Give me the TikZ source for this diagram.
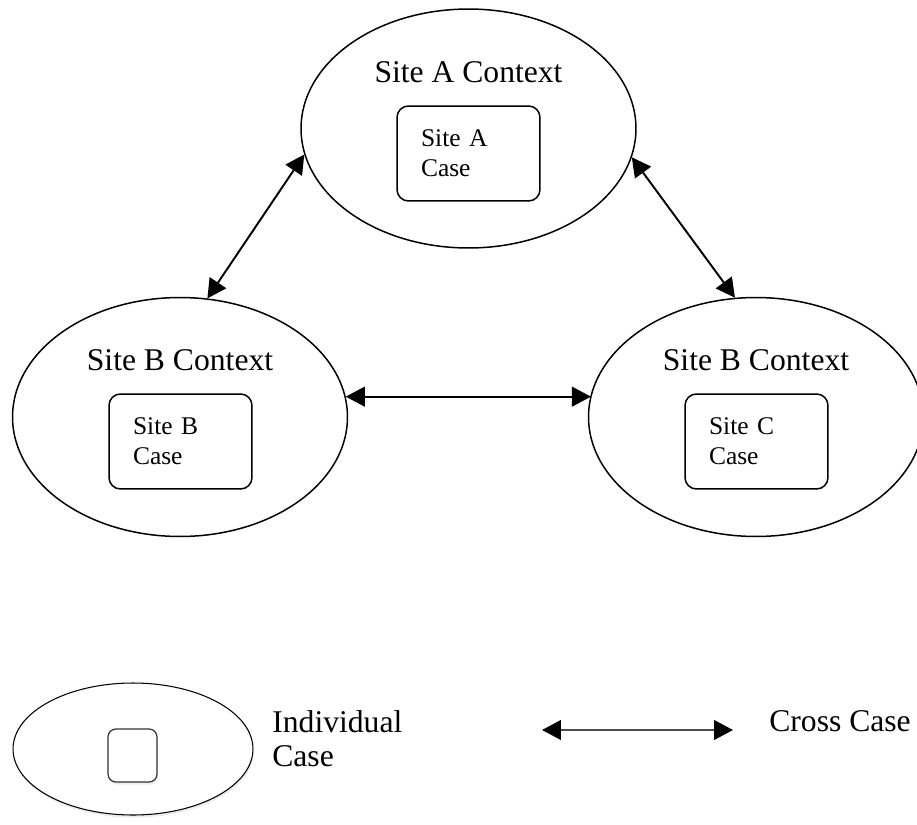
\documentclass[tikz,border=0pt]{standalone}
\usepackage{fontspec}
\setmainfont{Liberation Serif}
\usetikzlibrary{shapes.geometric,arrows.meta,shadows}

\begin{document}
\begin{tikzpicture}[x=0.02cm,y=-0.02cm,
    context/.style={ellipse,draw,line width=0.85pt,minimum width=6.7cm,minimum height=4.78cm,inner sep=0pt},
    ctxlabel/.style={anchor=base,inner sep=0pt,font=\fontsize{18}{20}\selectfont},
    casebox/.style={draw,rounded corners=6.5pt,line width=0.85pt,minimum width=2.86cm,minimum height=1.9cm,
        inner xsep=0.48cm,text width=1.9cm,align=left,font=\fontsize{14.5}{17}\selectfont},
    link/.style={line width=1.1pt,{Triangle[length=10.8pt,width=11.2pt,color=black]}-{Triangle[length=10.8pt,width=11.2pt,color=black]}},
    keytext/.style={inner sep=0pt,align=left,font=\fontsize{18}{19.4}\selectfont},
    keyshadow/.style={drop shadow={shadow xshift=0.5pt,shadow yshift=-1.5pt,opacity=0.15}}]

    \useasboundingbox (0,0) rectangle (917,825);

    % Site A
    \node[context] (siteA) at (468.5,128.5) {};
    \node[ctxlabel] (ctxA) at (468.5,82) {Site A Context};
    \node[casebox] (caseA) at (468.5,153.5) {Site A\\Case};

    % Site B
    \node[context] (siteB) at (180,417) {};
    \node[ctxlabel] (ctxB) at (180,370) {Site B Context};
    \node[casebox] (caseB) at (180.5,441.5) {Site B\\Case};

    % Site C
    \node[context] (siteC) at (756,417) {};
    \node[ctxlabel] (ctxC) at (756,370) {Site B Context};
    \node[casebox] (caseC) at (756.5,441.5) {Site C\\Case};

    % cross case links
    \draw[link] (siteA.189.7) -- (siteB.77.3);
    \draw[link] (siteA.350.5) -- (siteC.100.9);
    \draw[link] (siteB.7.7) -- (siteB.7.7 -| siteC.172.2);

    % legend
    \node[ellipse,draw,line width=0.6pt,fill=white,keyshadow,minimum width=4.8cm,minimum height=2.64cm,inner sep=0pt] (keySite) at (133,749) {};
    \node[draw=black!80,fill=white,keyshadow,rounded corners=4.5pt,line width=0.7pt,minimum width=0.98cm,minimum height=1.06cm,inner sep=0pt] (keyCase) at (132.5,755.5) {};
    \node[keytext,anchor=north west] (keyIndiv) at (272,710) {Individual\\Case};

    \coordinate (keyL) at (542,730);
    \coordinate (keyR) at (733,730);
    \draw[link,black!70] (keyL) -- (keyR);
    \node[keytext,anchor=base west] (keyCross) at (769,731) {Cross Case};

\end{tikzpicture}
\end{document}
